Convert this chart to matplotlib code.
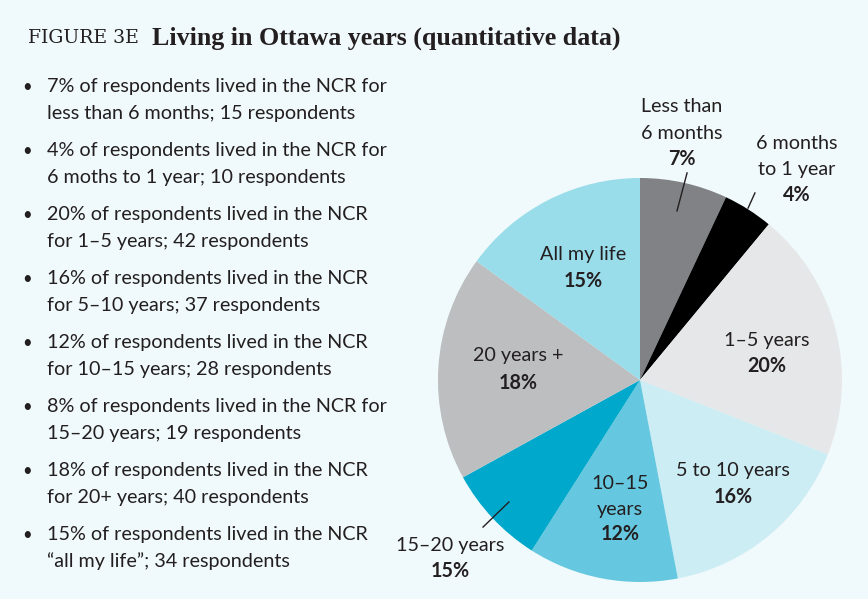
import matplotlib
matplotlib.use("Agg")
import matplotlib.pyplot as plt

# data
categories = ["Less than\n6 months", "6 months\nto 1 year", "1–5 years", "5 to 10 years",
              "10–15\nyears", "15–20 years", "20 years +", "All my life"]
shares = [7, 4, 20, 16, 12, 8, 18, 15]
shown_pct = ["7%", "4%", "20%", "16%", "12%", "15%", "18%", "15%"]
colors = ["#808285", "#000000", "#e6e7e8", "#ccedf4", "#66c8e0", "#00a9cc", "#bcbec0", "#99dcea"]

bullets = [
    "7% of respondents lived in the NCR for\nless than 6 months; 15 respondents",
    "4% of respondents lived in the NCR for\n6 moths to 1 year; 10 respondents",
    "20% of respondents lived in the NCR\nfor 1–5 years; 42 respondents",
    "16% of respondents lived in the NCR\nfor 5–10 years; 37 respondents",
    "12% of respondents lived in the NCR\nfor 10–15 years; 28 respondents",
    "8% of respondents lived in the NCR for\n15–20 years; 19 respondents",
    "18% of respondents lived in the NCR\nfor 20+ years; 40 respondents",
    "15% of respondents lived in the NCR\n“all my life”; 34 respondents",
]

# label placement (data coords of pie axes, radius 1)
name_pos = [(0.208, 1.287), (0.777, 1.106), (0.629, 0.198), (0.460, -0.450),
            (-0.099, -0.577), (-0.941, -0.817), (-0.604, 0.119), (-0.282, 0.619)]
pct_pos = [(0.208, 1.094), (0.777, 0.916), (0.629, 0.069), (0.460, -0.579),
           (-0.099, -0.762), (-0.941, -0.946), (-0.604, -0.015), (-0.282, 0.490)]
leaders = [((0.233, 1.025), (0.183, 0.837)),
           ((0.569, 0.926), (0.535, 0.851)),
           ((-0.777, -0.728), (-0.649, -0.604))]

bg = "#f0f9fb"
W, H = 868, 599
fig = plt.figure(figsize=(W / 100, H / 100), dpi=100, facecolor=bg)

sans = "Lato"
txt = "#231f20"
fs = 14.2
ls = 1.66

# title
fig.text(28 / W, 1 - 38 / H, "FIGURE 3E", family="DejaVu Serif", fontsize=13.6,
         color=txt, va="center", ha="left")
fig.text(152 / W, 1 - 38 / H, "Living in Ottawa years (quantitative data)",
         family="Liberation Serif", fontweight="bold", fontsize=18.7, color=txt,
         va="center", ha="left")

# bullet list
for i, b in enumerate(bullets):
    y = 1 - (100 + 64 * i) / H
    fig.text(22 / W, 1 - (87 + 64 * i) / H, "•", family=sans, fontsize=12, color=txt,
             va="center", ha="left")
    fig.text(47 / W, y, b, family=sans, fontsize=fs, color=txt, va="center", ha="left",
             linespacing=ls)

# pie
cx, cy, R = 640, 380, 202
ax = fig.add_axes([(cx - R) / W, (H - cy - R) / H, 2 * R / W, 2 * R / H])
ax.set_facecolor(bg)
ax.pie(shares, colors=colors, startangle=90, counterclock=False, radius=1,
       wedgeprops=dict(linewidth=0))
ax.set_xlim(-1, 1)
ax.set_ylim(-1, 1)
ax.set_aspect("equal")
ax.axis("off")

for name, pct, (nx, ny), (px, py) in zip(categories, shown_pct, name_pos, pct_pos):
    ax.text(nx, ny, name, family=sans, fontsize=fs, color=txt, ha="center", va="center",
            linespacing=ls, clip_on=False)
    ax.text(px, py, pct, family=sans, fontsize=fs, fontweight="bold", color=txt,
            ha="center", va="center", clip_on=False)

for (x0, y0), (x1, y1) in leaders:
    ax.plot([x0, x1], [y0, y1], color=txt, lw=1, clip_on=False)

fig.savefig("out.png", dpi=100, facecolor=bg)
